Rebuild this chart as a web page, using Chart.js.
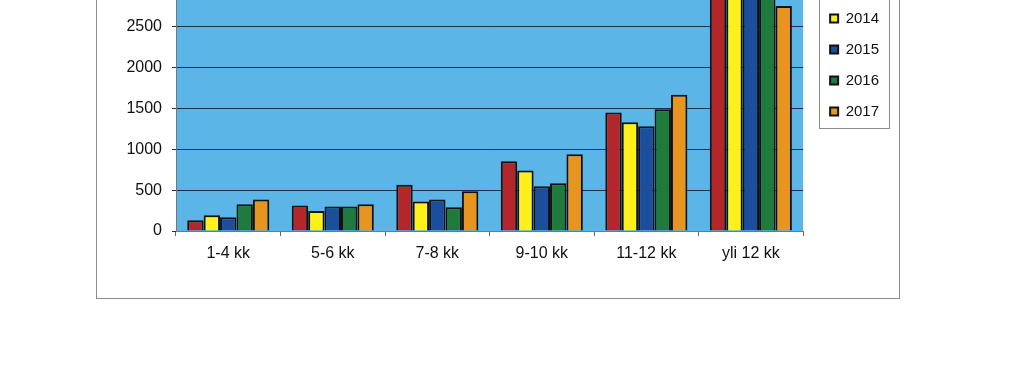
<!DOCTYPE html>
<html>
<head>
<meta charset="utf-8">
<script src="https://cdn.jsdelivr.net/npm/chart.js@4"></script>
<style>
  html, body { margin: 0; padding: 0; background: #fff; width: 1023px; height: 370px; overflow: hidden; }
  #frame { position: absolute; left: 96px; top: -239px; width: 804px; height: 538px; box-sizing: border-box; border: 1px solid #8c8c8c; }
  #chart { display: block; }
</style>
</head>
<body>
<div id="frame"><canvas id="chart" width="802" height="536"></canvas></div>
<script>
// Kesto (kk) per vuosi
var categories = ['1-4 kk', '5-6 kk', '7-8 kk', '9-10 kk', '11-12 kk', 'yli 12 kk'];
var years = ['2013', '2014', '2015', '2016', '2017'];
var v2013 = [131, 311, 565, 853, 1450, 3300];
var v2014 = [193, 245, 360, 739, 1331, 3150];
var v2015 = [168, 299, 385, 547, 1282, 3050];
var v2016 = [326, 299, 290, 584, 1490, 3000];
var v2017 = [385, 326, 485, 940, 1667, 2754];
var colors = ['#b3262a', '#fff01c', '#1b4f9e', '#1f7b3c', '#e8951f'];
var yStep = 500;
var yMax = 5500;

var font = "'Liberation Sans', Arial, sans-serif";

// blue plot background
var plotBg = {
  id: 'plotBg',
  beforeDraw: function(chart) {
    var a = chart.chartArea, ctx = chart.ctx;
    ctx.save();
    ctx.fillStyle = '#5bb5e6';
    ctx.fillRect(a.left, a.top, a.right - a.left, a.bottom - a.top);
    ctx.restore();
  }
};

// frame round the legend
var legendFrame = {
  id: 'legendFrame',
  afterDraw: function(chart) {
    var lg = chart.legend;
    if (!lg || !lg.legendHitBoxes || !lg.legendHitBoxes.length) return;
    var hb = lg.legendHitBoxes;
    var first = hb[0], last = hb[hb.length - 1];
    var ctx = chart.ctx;
    ctx.save();
    ctx.strokeStyle = '#8c8c8c';
    ctx.lineWidth = 1;
    ctx.strokeRect(Math.round(lg.left + 5) + 0.5, Math.round(first.top - 12) + 0.5,
      Math.round(lg.right - lg.left - 5), Math.round(last.top + last.height + 9 - (first.top - 12)));
    ctx.restore();
  }
};

var series = [v2013, v2014, v2015, v2016, v2017];

new Chart(document.getElementById('chart').getContext('2d'), {
  type: 'bar',
  data: {
    labels: categories,
    datasets: series.map(function(s, i) {
      return { label: years[i], data: s, backgroundColor: colors[i], borderColor: '#111', borderWidth: 2,
        categoryPercentage: 0.785, barPercentage: 1 };
    })
  },
  options: {
    responsive: false,
    animation: false,
    layout: { padding: { left: 0, right: 10, top: 0, bottom: 0 } },
    plugins: {
      tooltip: { enabled: false },
      legend: {
        position: 'right',
        align: 'center',
        // empty title only pushes the items down to where the original has them
        title: { display: true, text: '', font: { size: 10, lineHeight: 1 }, padding: { top: 29, bottom: 0 } },
        labels: { font: { family: font, size: 15 }, color: '#111', boxWidth: 8, boxHeight: 8, padding: 16 }
      }
    },
    scales: {
      x: {
        grid: { display: true, drawOnChartArea: false, drawTicks: true, tickLength: 5, color: '#666' },
        border: { display: true, color: '#777', width: 1 },
        ticks: { font: { family: font, size: 16 }, color: '#111', padding: 8, maxRotation: 0 },
        afterFit: function(s) { s.height = 67; }
      },
      y: {
        min: 0, max: yMax,
        grid: { color: '#1d2f4a', lineWidth: 1, tickLength: 4, drawTicks: true },
        border: { display: true, color: '#777', width: 1 },
        ticks: { stepSize: yStep, font: { family: font, size: 16 }, color: '#111', padding: 10,
          callback: function(v) { return String(v); } },
        afterFit: function(s) { s.width = 79; }
      },
      yR: {
        position: 'right', display: true, min: 0, max: 1,
        grid: { display: false }, border: { display: false }, ticks: { display: false },
        afterFit: function(s) { s.width = 11; }
      }
    }
  },
  plugins: [plotBg, legendFrame]
});
</script>
</body>
</html>
